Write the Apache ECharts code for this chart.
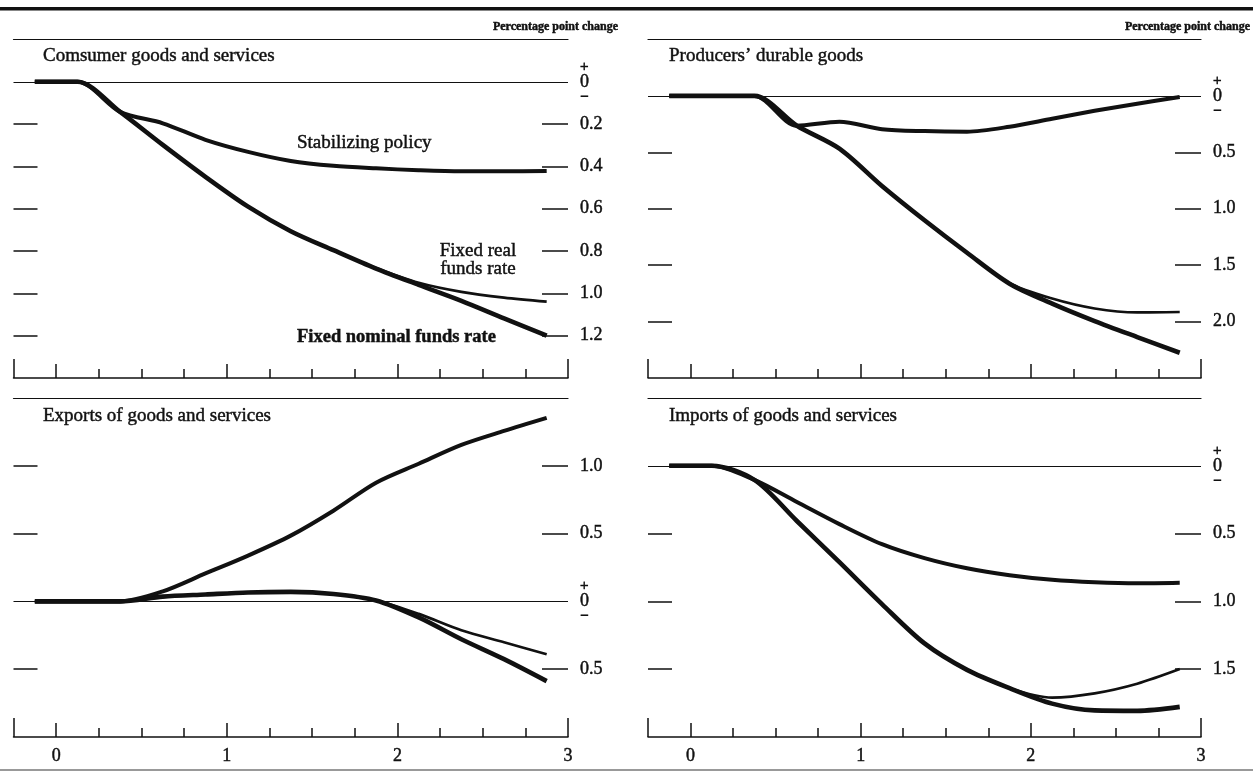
<!DOCTYPE html>
<html>
<head>
<meta charset="utf-8">
<script src="https://cdn.jsdelivr.net/npm/echarts@6/dist/echarts.min.js"></script>
<style>
  html, body { margin: 0; padding: 0; background: #fff; }
  #chart { width: 1253px; height: 773px; }
</style>
</head>
<body>
<div id="chart"></div>
<script>
// Horizon in years, one point per quarter (mid-quarter)
const quarters = [-0.125, 0.125, 0.375, 0.625, 0.875, 1.125, 1.375, 1.625, 1.875, 2.125, 2.375, 2.625, 2.875];
const xTickValues = [0, 1, 2, 3];
const xTickLabels = ['0', '1', '2', '3'];
const xBounds = [-0.25, 3];

// Vertical tick positions of each panel (declines are negative)
const consumerTicks  = [0, -0.2, -0.4, -0.6, -0.8, -1.0, -1.2];
const producersTicks = [0, -0.5, -1.0, -1.5, -2.0];
const exportsTicks   = [1.0, 0.5, 0, -0.5];
const importsTicks   = [0, -0.5, -1.0, -1.5];

// Consumer goods and services, percentage point change
const consumerNominal     = [0, 0, -0.142, -0.298, -0.449, -0.590, -0.706, -0.796, -0.883, -0.960, -1.035, -1.118, -1.200];
const consumerReal        = [0, 0, -0.142, -0.298, -0.449, -0.590, -0.706, -0.796, -0.880, -0.950, -0.993, -1.020, -1.039];
const consumerStabilizing = [0, 0, -0.142, -0.196, -0.274, -0.331, -0.374, -0.397, -0.409, -0.418, -0.423, -0.423, -0.421];

// Producers' durable goods
const producersNominal     = [0, 0, 0, -0.264, -0.467, -0.798, -1.102, -1.390, -1.664, -1.840, -1.995, -2.137, -2.276];
const producersReal        = [0, 0, 0, -0.264, -0.467, -0.798, -1.102, -1.390, -1.660, -1.796, -1.884, -1.919, -1.915];
const producersStabilizing = [0, 0, 0, -0.264, -0.229, -0.295, -0.312, -0.317, -0.273, -0.202, -0.132, -0.070, -0.009];

// Exports of goods and services
const exportsNominal     = [0, 0, 0, 0.035, 0.051, 0.066, 0.070, 0.055, 0.007, -0.118, -0.279, -0.426, -0.588];
const exportsReal        = [0, 0, 0, 0.035, 0.051, 0.066, 0.070, 0.055, 0.007, -0.092, -0.213, -0.301, -0.390];
const exportsStabilizing = [0, 0, 0, 0.074, 0.206, 0.338, 0.485, 0.669, 0.875, 1.015, 1.154, 1.257, 1.353];

// Imports of goods and services
const importsNominal     = [0, 0, -0.104, -0.407, -0.711, -1.020, -1.310, -1.505, -1.640, -1.754, -1.804, -1.807, -1.778];
const importsReal        = [0, 0, -0.104, -0.407, -0.711, -1.020, -1.310, -1.505, -1.640, -1.709, -1.678, -1.607, -1.499];
const importsStabilizing = [0, 0, -0.104, -0.267, -0.430, -0.578, -0.681, -0.756, -0.807, -0.841, -0.859, -0.867, -0.863];

const INK = '#111';
const SERIF = "'Liberation Serif', 'Times New Roman', serif";

const chart = echarts.init(document.getElementById('chart'), null, { renderer: 'canvas' });

// Panel frames and value ranges
const panels = [
  { left: 13.5, top: 39.5, width: 554.5, height: 338.5, yMin: -1.4, yMax: 0.2, ticks: consumerTicks,  xLabels: false },
  { left: 648,  top: 39.5, width: 553,   height: 338.5, yMin: -2.5, yMax: 0.5, ticks: producersTicks, xLabels: false },
  { left: 13.5, top: 398,  width: 554.5, height: 339,   yMin: -1.0, yMax: 1.5, ticks: exportsTicks,   xLabels: true },
  { left: 648,  top: 398,  width: 553,   height: 339,   yMin: -2.0, yMax: 0.5, ticks: importsTicks,   xLabels: true }
];

const grids = panels.map(p => ({ left: p.left, top: p.top, width: p.width, height: p.height, containLabel: false }));

const labelInk = { color: INK, fontFamily: SERIF, textBorderColor: INK, textBorderWidth: 0.45 };

const xAxes = [];
const yAxes = [];
panels.forEach((p, g) => {
  const base = { gridIndex: g, type: 'value', min: xBounds[0], max: xBounds[1], splitLine: { show: false } };
  const tickStyle = { color: INK, width: 1.5 };
  // quarter ticks and baseline
  xAxes.push(Object.assign({}, base, {
    position: 'bottom', interval: 0.25,
    axisLine: { show: true, onZero: false, lineStyle: { color: INK, width: 1.5 } },
    axisTick: { show: true, inside: true, length: 9, lineStyle: tickStyle },
    axisLabel: { show: false }
  }));
  // year ticks and labels
  xAxes.push(Object.assign({}, base, {
    position: 'bottom',
    axisLine: { show: false, onZero: false },
    axisTick: { show: true, inside: true, length: 14, customValues: xTickValues, lineStyle: tickStyle },
    axisLabel: Object.assign({
      show: p.xLabels, customValues: xTickValues, margin: 10, fontSize: 18,
      formatter: v => xTickLabels[xTickValues.indexOf(v)] || ''
    }, labelInk)
  }));
  // end ticks
  xAxes.push(Object.assign({}, base, {
    position: 'bottom',
    axisLine: { show: false, onZero: false },
    axisTick: { show: true, inside: true, length: 19, customValues: xBounds, lineStyle: tickStyle },
    axisLabel: { show: false }
  }));
  // top rule
  xAxes.push(Object.assign({}, base, {
    position: 'top',
    axisLine: { show: true, onZero: false, lineStyle: { color: INK, width: 1.2 } },
    axisTick: { show: false },
    axisLabel: { show: false }
  }));

  const yBase = {
    gridIndex: g, type: 'value', min: p.yMin, max: p.yMax,
    splitLine: { show: false }, axisLine: { show: false, onZero: false }
  };
  const sideTicks = p.ticks.filter(v => v !== 0);
  yAxes.push(Object.assign({}, yBase, {
    position: 'left',
    axisTick: { show: true, inside: true, length: 24, customValues: sideTicks, lineStyle: { color: INK, width: 1.5 } },
    axisLabel: { show: false }
  }));
  yAxes.push(Object.assign({}, yBase, {
    position: 'right',
    axisTick: { show: true, inside: true, length: 26, customValues: sideTicks, lineStyle: { color: INK, width: 1.5 } },
    axisLabel: Object.assign({
      show: true, margin: 12, customValues: p.ticks, fontSize: 18, lineHeight: 15,
      formatter: v => Math.abs(v) < 1e-9 ? '{pm|+}\n0\n{pm|\u2212}' : Math.abs(v).toFixed(1),
      rich: { pm: { fontFamily: SERIF, fontSize: 15, lineHeight: 15, color: INK, textBorderColor: INK, textBorderWidth: 0.6 } }
    }, labelInk)
  }));
});

function line(values, g, width, withZero) {
  const s = {
    type: 'line',
    xAxisIndex: g * 4,
    yAxisIndex: g * 2,
    data: quarters.map((q, i) => [q, values[i]]),
    symbol: 'none',
    showSymbol: false,
    smooth: 0.3,
    silent: true,
    lineStyle: { color: INK, width: width, cap: 'butt', join: 'round' }
  };
  if (withZero) {
    s.markLine = {
      silent: true, symbol: ['none', 'none'], label: { show: false },
      lineStyle: { color: INK, width: 1.2, type: 'solid' },
      data: [{ yAxis: 0 }]
    };
  }
  return s;
}

const W_NOMINAL = 4.6, W_STAB = 4, W_REAL = 2.7;
const series = [
  line(consumerNominal, 0, W_NOMINAL, true),
  line(consumerReal, 0, W_REAL),
  line(consumerStabilizing, 0, W_STAB),
  line(producersNominal, 1, W_NOMINAL, true),
  line(producersReal, 1, W_REAL),
  line(producersStabilizing, 1, W_STAB),
  line(exportsNominal, 2, W_NOMINAL, true),
  line(exportsReal, 2, W_REAL),
  line(exportsStabilizing, 2, W_STAB),
  line(importsNominal, 3, W_NOMINAL, true),
  line(importsReal, 3, W_REAL),
  line(importsStabilizing, 3, W_STAB)
];

function text(str, x, y, size, weight, align) {
  return {
    type: 'text', x: x, y: y, silent: true,
    style: {
      text: str, fill: INK, stroke: INK, lineWidth: 0.45,
      font: (weight || 'normal') + ' ' + size + 'px ' + SERIF,
      textAlign: align || 'left', align: align || 'left',
      textVerticalAlign: 'middle', verticalAlign: 'middle',
      lineHeight: Math.round(size * 0.95)
    }
  };
}

const graphic = [
  { type: 'rect', silent: true, shape: { x: 0, y: 7, width: 1253, height: 3.5 }, style: { fill: INK } },
  { type: 'line', silent: true, shape: { x1: 0, y1: 770, x2: 1253, y2: 770 }, style: { stroke: '#999', lineWidth: 2 } },
  text('Percentage point change', 618, 27, 12, 'bold', 'right'),
  text('Percentage point change', 1250, 27, 12, 'bold', 'right'),
  text('Comsumer goods and services', 43, 56, 19),
  text('Producers\u2019 durable goods', 669, 56, 19),
  text('Exports of goods and services', 43, 416, 19),
  text('Imports of goods and services', 669, 416, 19),
  text('Stabilizing policy', 297, 143, 19),
  text('Fixed real\nfunds rate', 478, 260, 19, 'normal', 'center'),
  text('Fixed nominal funds rate', 297, 337, 18.5, 'bold')
];

chart.setOption({
  animation: false,
  backgroundColor: '#fff',
  grid: grids,
  xAxis: xAxes,
  yAxis: yAxes,
  series: series,
  graphic: graphic
});
</script>
</body>
</html>
